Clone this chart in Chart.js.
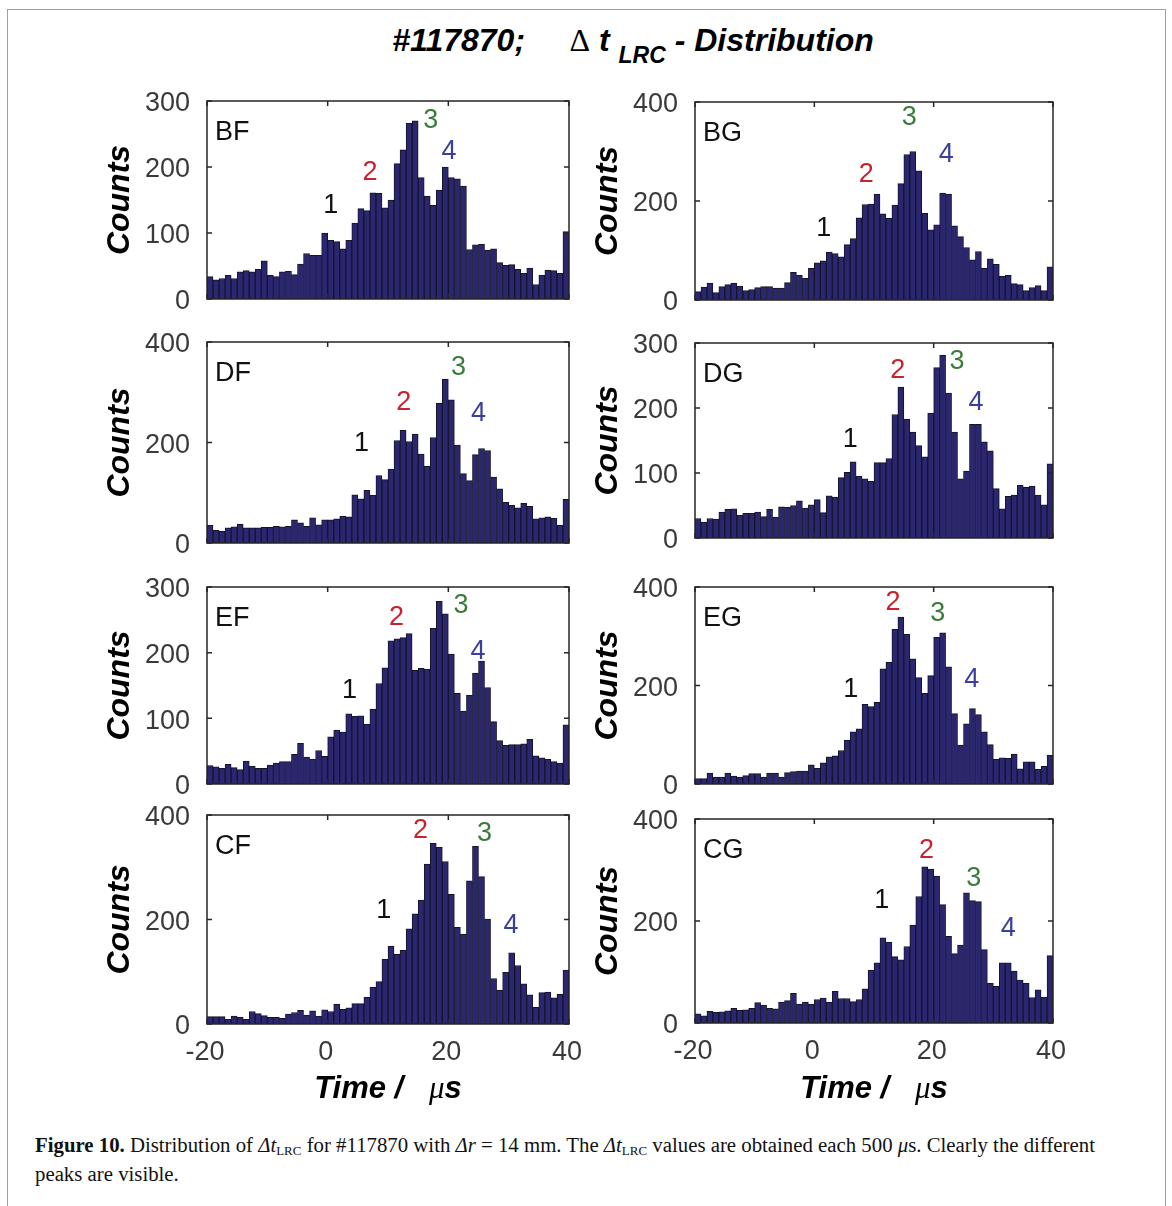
<!DOCTYPE html>
<html>
<head>
<meta charset="utf-8">
<script src="https://cdn.jsdelivr.net/npm/chart.js@4.4.0/dist/chart.umd.min.js"></script>
<style>
  body { margin: 0; width: 1172px; height: 1206px; background: #fff; position: relative; overflow: hidden;
         font-family: "Liberation Sans", Arial, sans-serif; }
  #frame { position: absolute; left: 7px; top: 9px; width: 1157px; height: 1220px; border: 1px solid #a0a0a0; border-bottom: none; }
  canvas { position: absolute; }
  .bi { font-weight: bold; font-style: italic; }
  .sym { font-family: "Liberation Serif", serif; font-weight: normal; font-style: normal; }
  #title { position: absolute; left: 0; top: 24px; width: 1266px; text-align: center; font-size: 32px; line-height: 32px; white-space: pre; }
  #title sub { font-size: 23px; vertical-align: -12px; }
  .xtitle { position: absolute; top: 1072px; text-align: center; font-size: 31px; line-height: 31px; white-space: pre; }
  .mu { font-family: "Liberation Serif", serif; font-style: italic; font-weight: normal; }
  #caption { position: absolute; left: 35px; top: 1133px; font-family: "Liberation Serif", serif; font-size: 20.8px; line-height: 23px; color: #111; white-space: nowrap; }
  #caption sub { font-size: 13px; vertical-align: -3px; }
</style>
</head>
<body>
<div id="frame"></div>
<div id="title"><span class="bi">#117870;</span>     <span class="sym">Δ</span> <span class="bi">t</span> <sub class="bi">LRC</sub><span class="bi"> - Distribution</span></div>

<script>
// bin centres (µs), 1 µs wide bins from -20 to 40
const binCenters = [-19.5,-18.5,-17.5,-16.5,-15.5,-14.5,-13.5,-12.5,-11.5,-10.5,
  -9.5,-8.5,-7.5,-6.5,-5.5,-4.5,-3.5,-2.5,-1.5,-0.5,
  0.5,1.5,2.5,3.5,4.5,5.5,6.5,7.5,8.5,9.5,
  10.5,11.5,12.5,13.5,14.5,15.5,16.5,17.5,18.5,19.5,
  20.5,21.5,22.5,23.5,24.5,25.5,26.5,27.5,28.5,29.5,
  30.5,31.5,32.5,33.5,34.5,35.5,36.5,37.5,38.5,39.5];

const countsBF = [34,29,31,36,31,41,43,41,45,58, 36,34,41,42,37,53,69,66,66,100,
  89,87,76,89,115,137,134,161,160,138, 150,205,226,266,270,184,156,142,165,200,
  184,182,171,75,82,83,74,76,55,51, 52,45,39,47,22,36,44,43,39,102];
const countsBG = [17,26,34,15,27,31,34,28,19,21, 25,27,27,24,24,35,56,50,44,64,
  75,79,97,94,87,112,124,166,193,194, 214,174,165,192,235,294,300,261,175,142,
  152,216,214,150,128,106,81,98,64,83, 72,48,50,33,31,19,25,29,19,67];
const countsDF = [35,25,23,30,32,37,30,30,30,31, 31,33,32,33,46,40,33,50,36,46,
  46,48,53,52,96,88,105,95,134,126, 147,204,224,202,217,177,153,210,278,326,
  285,195,138,124,176,188,184,131,108,81, 75,70,79,73,48,50,52,49,35,87];
const countsDG = [30,24,30,29,40,44,45,35,38,38, 40,33,44,32,48,47,50,57,46,51,
  59,39,65,63,93,101,117,95,91,87, 116,116,122,190,232,183,163,142,125,192,
  262,281,223,163,91,103,175,175,148,134, 76,45,64,66,81,78,80,66,51,114];
const countsEF = [28,26,24,30,25,22,35,27,24,24, 29,32,34,34,45,62,41,38,51,42,
  72,82,79,107,103,104,91,114,153,177, 218,221,223,229,173,176,175,237,278,259,
  198,138,111,135,169,187,147,95,66,59, 60,60,61,68,43,40,38,34,32,90];
const countsEG = [11,11,22,14,14,22,16,14,17,21, 21,14,22,22,14,23,25,26,26,39,
  32,43,55,57,68,89,106,112,162,157, 166,234,247,314,339,304,254,216,184,220,
  298,307,238,143,79,122,153,141,106,80, 50,53,52,61,31,45,45,30,36,58];
const countsCF = [14,14,14,9,15,13,9,24,20,16, 13,13,11,19,22,26,17,25,15,27,
  24,38,28,31,39,39,51,70,81,124, 149,134,141,182,211,237,306,346,338,311,
  248,185,172,274,340,282,201,87,65,99, 136,112,77,56,32,60,61,50,57,103];
const countsCG = [18,14,23,21,22,24,29,25,26,29, 40,35,29,28,41,44,58,37,41,37,
  46,49,41,62,48,48,42,46,67,104, 118,167,158,130,124,150,192,248,306,302,
  288,232,170,136,153,255,240,238,144,78, 72,118,118,102,84,78,50,65,51,132];

const xTicks = [-20, 0, 20, 40];
const peakNames = ['1', '2', '3', '4'];
const peakColors = ['#111111', '#c8232c', '#3a7d3a', '#3b3f9c'];

// peak label positions [time, counts]
const peaksBF = [[0.5,142],[7,191],[17.1,271],[20.1,223]];
const peaksBG = [[1.6,145],[8.7,253],[15.9,368],[22.1,293]];
const peaksDF = [[5.6,197],[12.6,279],[21.7,350],[25,257]];
const peaksDG = [[6,151],[14,258],[23.9,271],[27.1,208]];
const peaksEF = [[3.6,143],[11.4,254],[22.1,271],[24.9,201]];
const peaksEG = [[6.1,191],[13.2,368],[20.7,347],[26.4,213]];
const peaksCF = [[9.3,218],[15.4,371],[26,364],[30.4,189]];
const peaksCG = [[11.3,241],[18.8,339],[26.7,284],[32.5,186]];

const panels = [
  { name: 'BF', counts: countsBF, peaks: peaksBF, yMax: 300, yStep: 100, col: 0, top: 101, bottom: 299, last: false },
  { name: 'BG', counts: countsBG, peaks: peaksBG, yMax: 400, yStep: 200, col: 1, top: 102, bottom: 300, last: false },
  { name: 'DF', counts: countsDF, peaks: peaksDF, yMax: 400, yStep: 200, col: 0, top: 342, bottom: 543, last: false },
  { name: 'DG', counts: countsDG, peaks: peaksDG, yMax: 300, yStep: 100, col: 1, top: 343, bottom: 538, last: false },
  { name: 'EF', counts: countsEF, peaks: peaksEF, yMax: 300, yStep: 100, col: 0, top: 587, bottom: 784, last: false },
  { name: 'EG', counts: countsEG, peaks: peaksEG, yMax: 400, yStep: 200, col: 1, top: 587, bottom: 784, last: false },
  { name: 'CF', counts: countsCF, peaks: peaksCF, yMax: 400, yStep: 200, col: 0, top: 815, bottom: 1024, last: true },
  { name: 'CG', counts: countsCG, peaks: peaksCG, yMax: 400, yStep: 200, col: 1, top: 819, bottom: 1023, last: true }
];

const colLeft = [98, 586];
const plotRight = [569, 1053];
const yAxisW = 109;
const padTop = 20;
const padRight = 18;
const FONT = '"Liberation Sans", Arial, sans-serif';

// box, inner ticks, panel name and peak numbers
const framePlugin = {
  id: 'frame',
  afterDatasetsDraw(chart) {
    const { ctx, chartArea: a, scales: { x, y } } = chart;
    const p = chart.options.plugins.frame;
    ctx.save();
    ctx.strokeStyle = '#262626';
    ctx.lineWidth = 1.5;
    ctx.strokeRect(a.left, a.top, a.right - a.left, a.bottom - a.top);
    ctx.beginPath();
    xTicks.forEach(v => {
      const px = x.getPixelForValue(v);
      ctx.moveTo(px, a.bottom); ctx.lineTo(px, a.bottom - 5);
      ctx.moveTo(px, a.top); ctx.lineTo(px, a.top + 5);
    });
    y.ticks.forEach(t => {
      const py = y.getPixelForValue(t.value);
      ctx.moveTo(a.left, py); ctx.lineTo(a.left + 5, py);
      ctx.moveTo(a.right, py); ctx.lineTo(a.right - 5, py);
    });
    ctx.stroke();

    ctx.fillStyle = '#111';
    ctx.font = '27px ' + FONT;
    ctx.textAlign = 'left';
    ctx.textBaseline = 'alphabetic';
    ctx.fillText(p.name, a.left + 8, a.top + 39);

    ctx.font = '27px ' + FONT;
    ctx.textAlign = 'center';
    ctx.textBaseline = 'middle';
    p.peaks.forEach((pk, i) => {
      ctx.fillStyle = peakColors[i];
      ctx.fillText(peakNames[i], x.getPixelForValue(pk[0]), y.getPixelForValue(pk[1]));
    });
    ctx.restore();
  }
};

panels.forEach(p => {
  const xh = p.last ? 50 : 16;
  const cv = document.createElement('canvas');
  const w = plotRight[p.col] + padRight - colLeft[p.col];
  const h = padTop + (p.bottom - p.top) + xh;
  cv.width = w;
  cv.height = h;
  cv.style.left = colLeft[p.col] + 'px';
  cv.style.top = (p.top - padTop) + 'px';
  document.body.appendChild(cv);

  new Chart(cv.getContext('2d'), {
    type: 'bar',
    data: {
      datasets: [{
        data: p.counts.map((c, i) => ({ x: binCenters[i], y: c })),
        backgroundColor: '#2b2670',
        borderColor: '#15152a',
        borderWidth: 1,
        barPercentage: 1,
        categoryPercentage: 1
      }]
    },
    options: {
      responsive: false,
      animation: false,
      layout: { padding: { top: padTop, right: padRight, left: 0, bottom: 0 } },
      plugins: {
        legend: { display: false },
        tooltip: { enabled: false },
        frame: { name: p.name, peaks: p.peaks }
      },
      scales: {
        x: {
          type: 'linear',
          min: -20,
          max: 40,
          offset: false,
          afterBuildTicks: s => { s.ticks = xTicks.map(v => ({ value: v })); },
          ticks: { display: p.last, font: { size: 27, family: FONT }, color: '#3a3a3a', padding: 12, maxRotation: 0, labelOffset: -2 },
          grid: { display: false, drawTicks: false, offset: false },
          border: { display: false },
          afterFit: s => { s.height = xh; s.paddingLeft = 0; s.paddingRight = 0; }
        },
        y: {
          min: 0,
          max: p.yMax,
          ticks: { stepSize: p.yStep, font: { size: 27, family: FONT }, color: '#3a3a3a', padding: 17, labelOffset: 3 },
          grid: { display: false, drawTicks: false },
          border: { display: false },
          title: { display: true, text: 'Counts', color: '#000', padding: 3,
                   font: { size: 32, weight: 'bold', style: 'italic', family: FONT } },
          afterFit: s => { s.width = yAxisW; s.paddingTop = 10; s.paddingBottom = 10; }
        }
      }
    },
    plugins: [framePlugin]
  });
});

// x axis titles under the bottom row
[0, 1].forEach(c => {
  const d = document.createElement('div');
  d.className = 'xtitle';
  const left = colLeft[c] + yAxisW;
  d.style.left = left + 'px';
  d.style.width = (plotRight[c] - left) + 'px';
  d.innerHTML = '<span class="bi">Time /</span>   <span class="mu">μ</span><span class="bi">s</span>';
  document.body.appendChild(d);
});
</script>

<div id="caption"><b>Figure 10.</b> Distribution of <i>Δt</i><sub>LRC</sub> for #117870 with <i>Δr</i> = 14 mm. The <i>Δt</i><sub>LRC</sub> values are obtained each 500 <i>μ</i>s. Clearly the different<br>peaks are visible.</div>
</body>
</html>
